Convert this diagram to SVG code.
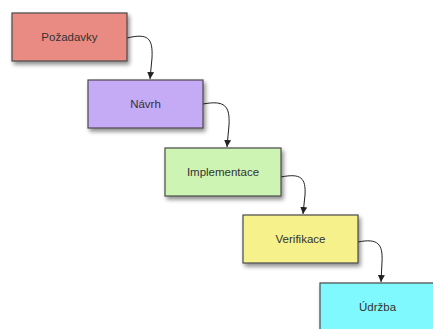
<svg xmlns="http://www.w3.org/2000/svg" width="433" height="329" viewBox="0 0 433 329">
<defs>
<filter id="sh" x="-20%" y="-20%" width="150%" height="160%">
<feGaussianBlur in="SourceAlpha" stdDeviation="2"/>
<feOffset dx="2" dy="3" result="b"/>
<feComponentTransfer><feFuncA type="linear" slope="0.45"/></feComponentTransfer>
<feMerge><feMergeNode/><feMergeNode in="SourceGraphic"/></feMerge>
</filter>
<marker id="ah" markerWidth="8" markerHeight="8" refX="7" refY="4" orient="auto" markerUnits="userSpaceOnUse">
<path d="M0,0.5 L7,4 L0,7.5 Z" fill="#222"/>
</marker>
</defs>
<style>
.box{stroke:#4a4a4a;stroke-width:1.2;filter:url(#sh)}
.lbl{font-family:"Liberation Sans",Arial,sans-serif;font-size:11.5px;fill:#333;text-anchor:middle;dominant-baseline:central}
.con{fill:none;stroke:#222;stroke-width:1;marker-end:url(#ah)}
</style>
<rect width="433" height="329" fill="#fff"/>
<g id="connectors">
<path class="con" d="M127,38 C148,33 153,38 152,58 L150,79"/>
<path class="con" d="M203,104 C225,100 230,106 229,125 L227,147"/>
<path class="con" d="M281,177 C301,173 306,178 305,195 L303,214"/>
<path class="con" d="M358,242 C378,238 383,244 382,262 L381,282"/>
</g>
<g id="n1"><rect class="box" x="12" y="13" width="115" height="48" fill="#ea8b83"/><text class="lbl" x="69.5" y="37">Požadavky</text></g>
<g id="n2"><rect class="box" x="88" y="80" width="115" height="48" fill="#c5aaf6"/><text class="lbl" x="145.5" y="104">Návrh</text></g>
<g id="n3"><rect class="box" x="165" y="148" width="116" height="48" fill="#cdf4b2"/><text class="lbl" x="223" y="172">Implementace</text></g>
<g id="n4"><rect class="box" x="243" y="215" width="115" height="48" fill="#f6f18b"/><text class="lbl" x="300.5" y="239">Verifikace</text></g>
<g id="n5"><rect class="box" x="320" y="283" width="115" height="48" fill="#7ff9fd"/><text class="lbl" x="377.5" y="307">Údržba</text></g>
</svg>
